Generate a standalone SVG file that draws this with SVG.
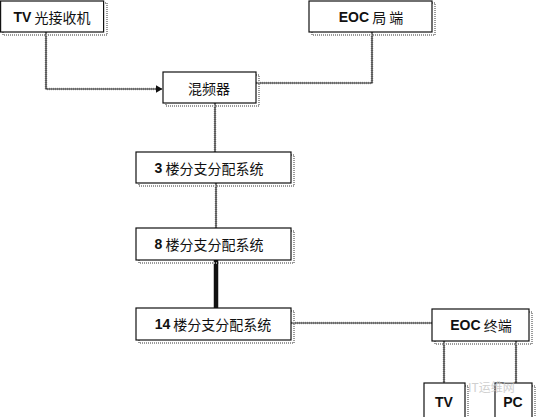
<svg xmlns="http://www.w3.org/2000/svg" width="538" height="417" viewBox="0 0 538 417">
  <style>
    .box { fill: #ffffff; stroke: #111111; stroke-width: 1.2; }
    .shadow { fill: none; stroke: #9a9a9a; stroke-width: 2; stroke-dasharray: 1 1; }
    .wire { fill: none; stroke: #222222; stroke-width: 1.2; }
    .wire-halo { fill: none; stroke: #b0b0b0; stroke-width: 2.6; stroke-dasharray: 1 1; }
    .trunk { fill: none; stroke: #111111; stroke-width: 4.5; }
    .label { font-family: "Noto Sans CJK SC", "Noto Sans", sans-serif; font-size: 14px; fill: #111111; text-anchor: middle; dominant-baseline: central; }
    .num { font-family: "Liberation Sans", Arial, sans-serif; font-weight: bold; }
    .mark { font-family: "Noto Sans CJK SC", sans-serif; font-size: 12px; fill: #c8c8c8; opacity: 0.85; dominant-baseline: central; }
  </style>
  <defs>
    <marker id="arrow" markerWidth="7" markerHeight="8" refX="6.5" refY="4" orient="auto" markerUnits="userSpaceOnUse">
      <path d="M0,0 L7,4 L0,8 Z" fill="#111111"/>
    </marker>
  </defs>
  <rect width="538" height="417" fill="#ffffff"/>

  <g id="connectors">
    <!-- TV receiver to mixer -->
    <path class="wire-halo" d="M46,32 V89 H157"/>
    <path class="wire" d="M46,32 V89 H162" marker-end="url(#arrow)"/>
    <!-- EOC head-end to mixer -->
    <path class="wire-halo" d="M372,32 V83 H256"/>
    <path class="wire" d="M372,32 V83 H256"/>
    <!-- mixer down the riser -->
    <path class="wire-halo" d="M215,103 V152"/>
    <path class="wire" d="M215,103 V152"/>
    <path class="wire-halo" d="M216,183 V228"/>
    <path class="wire" d="M216,183 V228"/>
    <path class="trunk" d="M216,260 V308"/>
    <!-- floor 14 to EOC terminal -->
    <path class="wire-halo" d="M291,323 H432"/>
    <path class="wire" d="M291,323 H432"/>
    <!-- EOC terminal to TV and PC -->
    <path class="wire-halo" d="M444,341 V383"/>
    <path class="wire" d="M444,341 V383"/>
    <path class="wire-halo" d="M516,341 V383"/>
    <path class="wire" d="M516,341 V383"/>
  </g>

  <g id="tv-receiver">
    <rect class="shadow" x="3" y="3" width="104" height="32"/>
    <rect class="box" x="0.6" y="1" width="103" height="31"/>
    <text class="label" x="52" y="17"><tspan class="num">TV</tspan> 光接收机</text>
  </g>

  <g id="eoc-head">
    <rect class="shadow" x="312" y="3" width="123" height="32"/>
    <rect class="box" x="309" y="1" width="123" height="31"/>
    <text class="label" x="371" y="17"><tspan class="num">EOC</tspan> 局 端</text>
  </g>

  <g id="mixer">
    <rect class="shadow" x="166" y="75" width="93" height="31"/>
    <rect class="box" x="163" y="72" width="93" height="31"/>
    <text class="label" x="209" y="88">混频器</text>
  </g>

  <g id="floor-3">
    <rect class="shadow" x="139" y="155" width="155" height="31"/>
    <rect class="box" x="136" y="152" width="155" height="31"/>
    <text class="label" x="209" y="168"><tspan class="num">3</tspan> 楼分支分配系统</text>
  </g>

  <g id="floor-8">
    <rect class="shadow" x="139" y="231" width="155" height="32"/>
    <rect class="box" x="136" y="228" width="155" height="32"/>
    <text class="label" x="209" y="244"><tspan class="num">8</tspan> 楼分支分配系统</text>
  </g>

  <g id="floor-14">
    <rect class="shadow" x="139" y="311" width="155" height="32"/>
    <rect class="box" x="136" y="308" width="155" height="32"/>
    <text class="label" x="213" y="324"><tspan class="num">14</tspan> 楼分支分配系统</text>
  </g>

  <g id="eoc-terminal">
    <rect class="shadow" x="435" y="312" width="97" height="32"/>
    <rect class="box" x="432" y="309" width="97" height="32"/>
    <text class="label" x="481" y="325"><tspan class="num">EOC</tspan> 终端</text>
  </g>

  <g id="tv">
    <rect class="shadow" x="427" y="386" width="41" height="34"/>
    <rect class="box" x="424" y="383" width="41" height="36"/>
    <text class="label num" x="444" y="402" font-size="13">TV</text>
  </g>

  <g id="pc">
    <rect class="shadow" x="498" y="386" width="37" height="34"/>
    <rect class="box" x="495" y="383" width="37" height="36"/>
    <text class="label num" x="513" y="402" font-size="13">PC</text>
  </g>

  <text class="mark" x="468" y="386">IT运维网</text>
</svg>
